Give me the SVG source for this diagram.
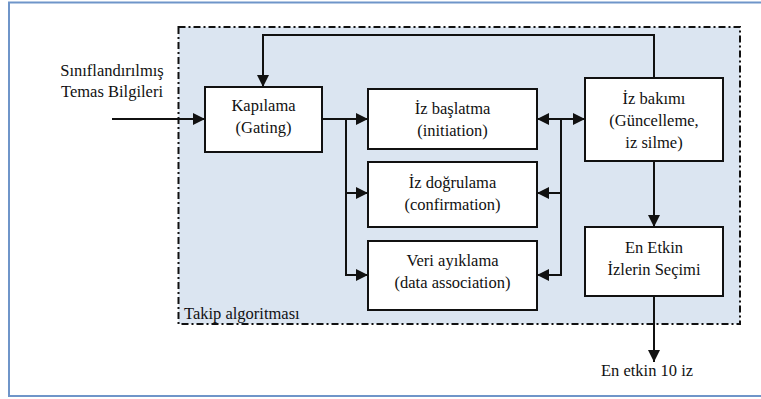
<svg xmlns="http://www.w3.org/2000/svg" width="761" height="399" viewBox="0 0 761 399">
<defs>
<style>
.t{font-family:'Liberation Serif','Times New Roman','DejaVu Serif',serif;font-size:16.5px;fill:#111;text-anchor:middle}
.box{fill:#fff;stroke:#111;stroke-width:2}
.ln{fill:none;stroke:#111;stroke-width:2}
</style>
<marker id="ah" viewBox="0 0 12 12" refX="12" refY="6" markerWidth="12" markerHeight="12" markerUnits="userSpaceOnUse" orient="auto">
<path d="M0,0 L12,6 L0,12 Z" fill="#111"/>
</marker>
</defs>
<rect x="0" y="0" width="761" height="399" fill="#fff"/>
<rect x="9" y="2.5" width="760" height="393.5" fill="none" stroke="#6F95C9" stroke-width="2"/>
<g id="container">
<rect x="178.5" y="27" width="561.5" height="297" fill="#DBE5F1" stroke="#111" stroke-width="2" stroke-dasharray="7,3,2,3"/>
<text class="t" x="184" y="319" style="text-anchor:start">Takip algoritması</text>
</g>
<g id="input-label">
<text class="t" x="112" y="76">Sınıflandırılmış</text>
<text class="t" x="112" y="97">Temas Bilgileri</text>
</g>
<g id="output-label">
<text class="t" x="647" y="376">En etkin 10 iz</text>
</g>
<g id="connectors">
<path class="ln" d="M112,119 H205" marker-end="url(#ah)"/>
<path class="ln" d="M654,78 V35 H263 V87" marker-end="url(#ah)"/>
<path class="ln" d="M322,119 H368" marker-end="url(#ah)"/>
<path class="ln" d="M346,119 V193 H368" marker-end="url(#ah)"/>
<path class="ln" d="M346,193 V275 H368" marker-end="url(#ah)"/>
<path class="ln" d="M561,119 H537" marker-end="url(#ah)"/>
<path class="ln" d="M561,119 H585" marker-end="url(#ah)"/>
<path class="ln" d="M561,119 V193 H537" marker-end="url(#ah)"/>
<path class="ln" d="M561,193 V275 H537" marker-end="url(#ah)"/>
<path class="ln" d="M654,161 V227" marker-end="url(#ah)"/>
<path class="ln" d="M654,296 V362" marker-end="url(#ah)"/>
</g>
<g id="gating">
<rect class="box" x="205" y="87" width="117" height="65"/>
<text class="t" x="263.5" y="111">Kapılama</text>
<text class="t" x="263.5" y="133">(Gating)</text>
</g>
<g id="initiation">
<rect class="box" x="368" y="89" width="169" height="60"/>
<text class="t" x="452.5" y="114">İz başlatma</text>
<text class="t" x="452.5" y="136">(initiation)</text>
</g>
<g id="confirmation">
<rect class="box" x="368" y="162" width="169" height="65"/>
<text class="t" x="452.5" y="188">İz doğrulama</text>
<text class="t" x="452.5" y="210">(confirmation)</text>
</g>
<g id="association">
<rect class="box" x="368" y="241" width="169" height="69"/>
<text class="t" x="452.5" y="266">Veri ayıklama</text>
<text class="t" x="452.5" y="288">(data association)</text>
</g>
<g id="maintenance">
<rect class="box" x="585" y="78" width="138" height="83"/>
<text class="t" x="654" y="104">İz bakımı</text>
<text class="t" x="654" y="126">(Güncelleme,</text>
<text class="t" x="654" y="148">iz silme)</text>
</g>
<g id="selection">
<rect class="box" x="585" y="227" width="138" height="69"/>
<text class="t" x="654" y="253">En Etkin</text>
<text class="t" x="654" y="275">İzlerin Seçimi</text>
</g>
</svg>
